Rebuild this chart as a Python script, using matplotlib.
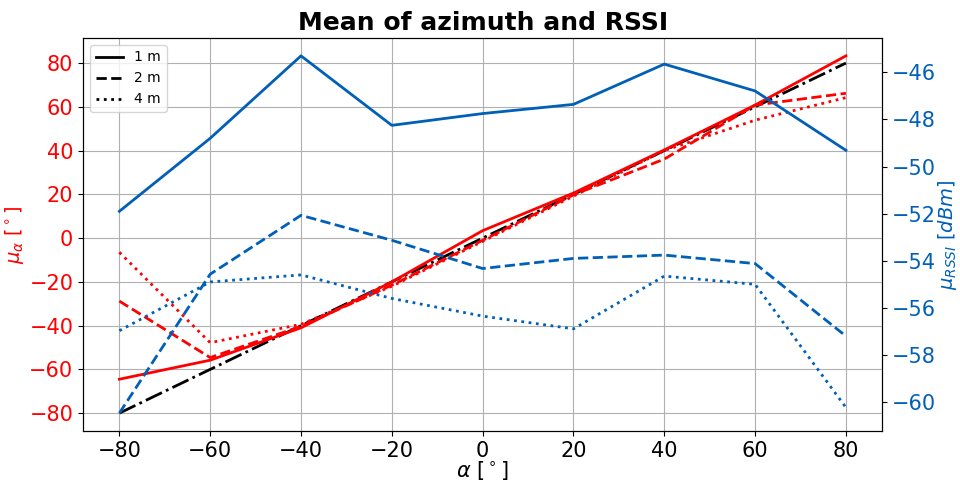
import numpy as np
import matplotlib
matplotlib.use('Agg')
import matplotlib.pyplot as plt
from matplotlib.lines import Line2D

matplotlib.rcParams.update({'font.size': 15})

RED = 'red'
BLUE = '#0060b8'

angles = [-80, -60, -40, -20, 0, 20, 40, 60, 80]

# mean azimuth estimate per distance
az_1m = [-64.5, -55.8, -41.0, -20.0, 3.4, 20.6, 40.3, 60.8, 83.3]
az_2m = [-28.8, -54.6, -40.3, -21.5, -1.0, 19.8, 36.1, 60.8, 66.2]
az_4m = [-6.5, -47.8, -39.4, -22.0, -1.5, 19.2, 40.0, 53.9, 64.2]

# mean RSSI per distance
rssi_1m = [-51.9, -48.8, -45.3, -48.25, -47.75, -47.36, -45.65, -46.79, -49.31]
rssi_2m = [-60.47, -54.57, -52.07, -53.13, -54.33, -53.9, -53.76, -54.12, -57.2]
rssi_4m = [-56.97, -54.9, -54.6, -55.6, -56.35, -56.89, -54.65, -55.0, -60.23]

fig, ax = plt.subplots(1, 1, figsize=(9.6, 4.84), dpi=100)
plt.subplots_adjust(left=0.0865, right=0.919, top=0.9215, bottom=0.1095)

ax.plot(angles, angles, c='black', ls='-.', lw=2)
ax.plot(angles, az_1m, c=RED, ls='-', lw=2)
ax.plot(angles, az_2m, c=RED, ls='--', lw=2)
ax.plot(angles, az_4m, c=RED, ls=':', lw=2)
ax.set_xlabel(r"$\alpha$ [$^\circ$]", labelpad=-1)
ax.set_ylabel(r"$\mu_{\alpha}$ [$^\circ$]", color=RED, fontsize=14, labelpad=2)
ax.tick_params(axis='y', labelcolor=RED)
ax.set_xticks(angles)
ax.set_yticks(np.arange(-80, 81, 20))
ax.grid(True)

ax2 = ax.twinx()
ax2.plot(angles, rssi_1m, c=BLUE, ls='-', lw=2)
ax2.plot(angles, rssi_2m, c=BLUE, ls='--', lw=2)
ax2.plot(angles, rssi_4m, c=BLUE, ls=':', lw=2)
ax2.set_ylabel(r"$\mu_{RSSI}$ [$dBm$]", color=BLUE, fontsize=14, labelpad=0)
ax2.tick_params(axis='y', labelcolor=BLUE)
ax2.set_yticks(np.arange(-60, -45, 2))

handles = [Line2D([], [], c='black', ls='-', lw=2),
           Line2D([], [], c='black', ls='--', lw=2),
           Line2D([], [], c='black', ls=':', lw=2)]
ax.legend(handles, ['1 m', '2 m', '4 m'], loc='upper left', fontsize=10)

ax.set_title("Mean of azimuth and RSSI", fontweight='bold', fontsize=18)

plt.savefig("out.png", dpi=100)
